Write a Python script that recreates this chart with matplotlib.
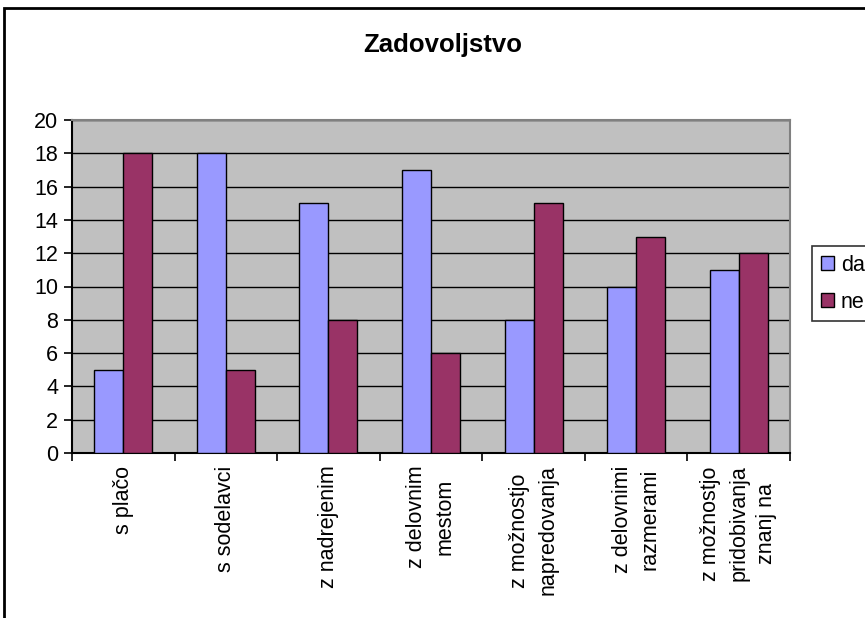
import numpy as np
import matplotlib.pyplot as plt
from matplotlib.patches import Rectangle

plt.rcParams['font.family'] = ['Liberation Sans', 'DejaVu Sans']

categories = ["s plačo", "s sodelavci", "z nadrejenim", "z delovnim\nmestom",
              "z možnostjo\nnapredovanja", "z delovnimi\nrazmerami",
              "z možnostjo\npridobivanja\nznanj na"]
da = [5, 18, 15, 17, 8, 10, 11]
ne = [18, 5, 8, 6, 15, 13, 12]

fig = plt.figure(figsize=(8.65, 6.18), dpi=100)
ax = fig.add_axes([72/865, 1-453/618, (790-72)/865, (453-120)/618])
ax.set_facecolor('#C0C0C0')

x = np.arange(len(categories))
w = 0.283
ax.bar(x - w/2, da, w, color='#9999FF', edgecolor='black', linewidth=1, label='da', zorder=3)
ax.bar(x + w/2, ne, w, color='#993366', edgecolor='black', linewidth=1, label='ne', zorder=3)

ax.set_xlim(-0.5, len(categories) - 0.5)
ax.set_ylim(0, 20)
ax.set_yticks(range(0, 21, 2))
ax.yaxis.grid(True, color='black', linewidth=1, zorder=1)
ax.set_axisbelow(True)

ax.set_xticks(x)
ax.set_xticklabels(categories, rotation=90, va='top', ha='center',
                   multialignment='center', linespacing=1.45)
ax.set_xticks(np.arange(-0.5, len(categories)), minor=True)
ax.tick_params(axis='x', which='major', length=0, pad=9, labelsize=15.5)
ax.tick_params(axis='x', which='minor', length=6, width=1.2, direction='out')
ax.tick_params(axis='y', length=6, width=1.2, direction='out', labelsize=15.5, pad=4)

for s in ['top', 'right']:
    ax.spines[s].set_color('#808080')
    ax.spines[s].set_linewidth(1.5)
for s in ['left', 'bottom']:
    ax.spines[s].set_color('black')
    ax.spines[s].set_linewidth(1.5)

fig.text(443/865, 1-45/618, "Zadovoljstvo", ha='center', va='center', fontsize=18.5, fontweight='bold')

leg = fig.legend(loc='upper left', bbox_to_anchor=(812/865, 1-246/618), fontsize=15.5,
                 frameon=True, fancybox=False, edgecolor='black', handlelength=0.6,
                 handleheight=0.6, handletextpad=0.35, borderpad=0.4, labelspacing=0.75,
                 borderaxespad=0)
leg.get_frame().set_linewidth(1.2)

fig.patches.append(Rectangle((4/865, -0.1), 1.2, 1-8/618 + 0.1, transform=fig.transFigure,
                             fill=False, edgecolor='black', linewidth=2))

fig.savefig('out.png', dpi=100)
